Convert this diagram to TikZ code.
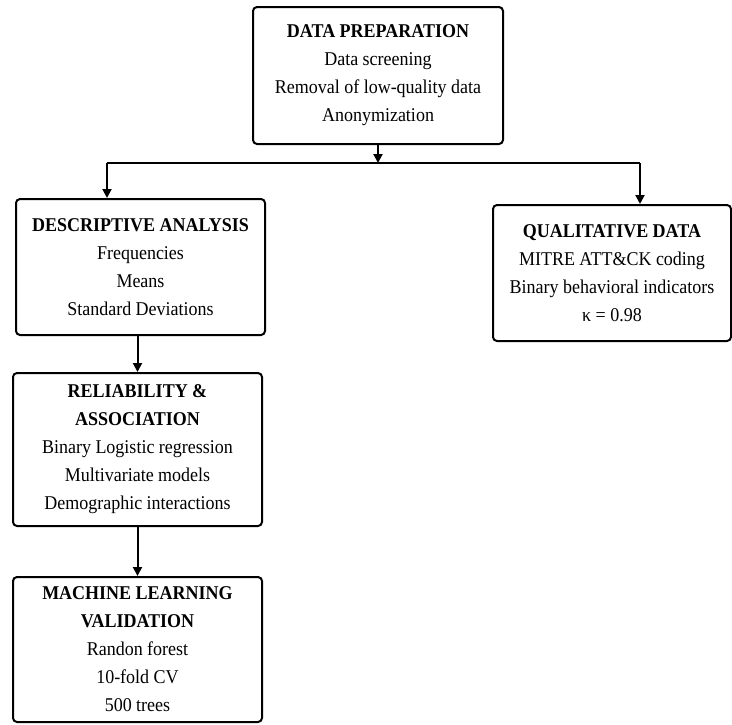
\documentclass[tikz,border=0pt]{standalone}
\usepackage{fontspec}
\setmainfont[FakeStretch=0.923]{Liberation Serif}
\usetikzlibrary{arrows.meta,calc}
\tikzset{
  stage/.style={draw, line width=2pt, rounded corners=4pt, align=center,
    inner sep=0pt, font=\fontsize{19.5}{28}\selectfont},
  flow/.style={line width=2pt, -{Triangle[width=9pt,length=9pt]}},
  plain/.style={line width=2pt}
}
\begin{document}
\begin{tikzpicture}[x=1pt,y=-1pt]
\useasboundingbox (0,0) rectangle (732,724);

\node[stage, minimum width=250pt, minimum height=137pt] (prep) at (378,75.5)
  {\textbf{DATA PREPARATION}\\Data screening\\Removal of low-quality data\\Anonymization};

\node[stage, minimum width=249pt, minimum height=136pt] (desc) at (140.5,267)
  {\textbf{DESCRIPTIVE ANALYSIS}\\Frequencies\\Means\\Standard Deviations};

\node[stage, minimum width=238pt, minimum height=136pt] (qual) at (612,273)
  {\textbf{QUALITATIVE DATA}\\MITRE ATT\&CK coding\\Binary behavioral indicators\\κ = 0.98};

\node[stage, minimum width=249pt, minimum height=153pt] (rel) at (137.5,449.5)
  {\textbf{RELIABILITY \&}\\\textbf{ASSOCIATION}\\Binary Logistic regression\\Multivariate models\\Demographic interactions};

\node[stage, minimum width=249pt, minimum height=145pt] (ml) at (137.5,649.5)
  {\textbf{MACHINE LEARNING}\\\textbf{VALIDATION}\\Randon forest\\10-fold CV\\500 trees};

% branching bar below the preparation stage
\coordinate (split) at (378,163);
\coordinate (bl) at (107,163);
\coordinate (br) at (640,163);

\draw[flow] (prep.south) -- (split);
\draw[plain] (bl) -- (br);
\draw[flow] (bl) -- (bl |- desc.north);
\draw[flow] (br) -- (br |- qual.north);
\draw[flow] (desc.south -| rel.north) -- (rel.north);
\draw[flow] (rel.south) -- (ml.north);
\end{tikzpicture}
\end{document}
